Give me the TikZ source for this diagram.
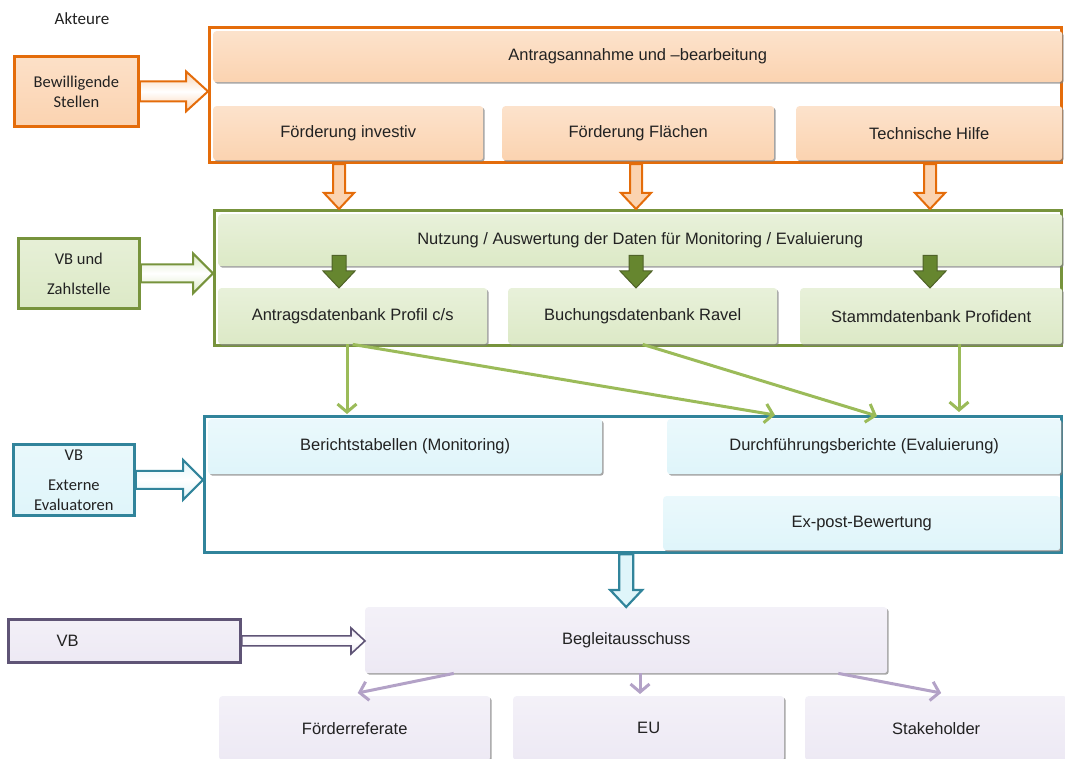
\documentclass[tikz,border=0pt]{standalone}
\usepackage{fontspec}
\setmainfont{Liberation Sans}
\newfontfamily\calibrifont{Carlito}
\usetikzlibrary{positioning, calc, shadows, arrows.meta}

\definecolor{orangeline}{HTML}{E46C0A}
\definecolor{orangefill}{HTML}{FBD3B0}
\definecolor{greenline}{HTML}{77933C}
\definecolor{greenfill}{HTML}{DCE9C6}
\definecolor{darkgreen}{HTML}{66862F}
\definecolor{darkgreenline}{HTML}{4F6228}
\definecolor{thingreen}{HTML}{9BBB59}
\definecolor{tealline}{HTML}{31849B}
\definecolor{tealfill}{HTML}{DFF5FA}
\definecolor{purpleline}{HTML}{5F5476}
\definecolor{purplefill}{HTML}{EDE9F4}
\definecolor{thinpurple}{HTML}{B3A2C7}
\definecolor{textgrey}{HTML}{222222}

\tikzset{
groupframe/.style={draw=#1, line width=3.2pt, rectangle, anchor=north west, inner sep=0pt, fill=white},
panel/.style={rectangle, rounded corners=3pt, anchor=north west, inner sep=0pt,
  top color=#1!65!white, bottom color=#1,
  general shadow={shadow xshift=1.5pt, shadow yshift=-1.5pt, fill=black!50, opacity=0.7},
  font=\fontsize{16.5}{19}\selectfont, text=textgrey},
actor/.style 2 args={draw=#1, line width=2.8pt, rectangle, anchor=north west, inner sep=0pt,
  top color=#2!70!white, bottom color=#2, align=center,
  font=\calibrifont\fontsize{16.5}{20}\selectfont, text=textgrey},
blockright/.style n args={3}{to path={let \p1=(\tikztostart), \p2=(\tikztotarget) in
  (\x1,\y1+#1pt) -- (\x2-#3pt,\y1+#1pt) -- (\x2-#3pt,\y1+#2pt) -- (\x2,\y1)
  -- (\x2-#3pt,\y1-#2pt) -- (\x2-#3pt,\y1-#1pt) -- (\x1,\y1-#1pt) -- cycle}},
blockdown/.style n args={3}{to path={let \p1=(\tikztostart), \p2=(\tikztotarget) in
  (\x1-#1pt,\y1) -- (\x1-#1pt,\y2+#3pt) -- (\x1-#2pt,\y2+#3pt) -- (\x1,\y2)
  -- (\x1+#2pt,\y2+#3pt) -- (\x1+#1pt,\y2+#3pt) -- (\x1+#1pt,\y1) -- cycle}},
sidearrow/.style 2 args={draw=#1, line width=2pt, line join=miter,
  top color=#2, bottom color=#2, middle color=white},
dataflow/.style={draw=thingreen, line width=3pt, -{Straight Barb[length=8pt, width=19pt]}},
panelflow/.style={draw=thinpurple, line width=3pt, -{Straight Barb[length=8pt, width=19pt]}},
}

\begin{document}
\begin{tikzpicture}[x=1pt, y=-1pt]
\useasboundingbox (0,0) rectangle (1065,759);
\clip (0,0) rectangle (1065,759);

\node[font=\calibrifont\fontsize{17}{20}\selectfont, text=textgrey] (akteure) at (82,19) {Akteure};

% Antragsannahme
\node[groupframe=orangeline, minimum width=852pt, minimum height=135pt] (frameA) at (208,26) {};
\node[panel=orangefill, minimum width=849pt, minimum height=51pt] (antrag) at (213,31) {Antragsannahme und --bearbeitung};
\node[panel=orangefill, minimum width=270pt, minimum height=54pt] (investiv) at (213,106) {Förderung investiv};
\node[panel=orangefill, minimum width=272pt, minimum height=54pt] (flaechen) at (502,106) {Förderung Flächen};
\node[panel=orangefill, minimum width=266pt, minimum height=54pt] (technik) at (796,106) {Technische Hilfe};
\node[actor={orangeline}{orangefill}, minimum width=124pt, minimum height=70pt] (bewStellen) at (13,55) {Bewilligende\\Stellen};

% Daten
\node[groupframe=greenline, minimum width=847pt, minimum height=135pt] (frameB) at (213,209) {};
\node[panel=greenfill, minimum width=844pt, minimum height=52pt] (nutzung) at (218,214) {Nutzung / Auswertung der Daten für Monitoring / Evaluierung};
\node[panel=greenfill, minimum width=269pt, minimum height=56pt] (profil) at (218,288) {Antragsdatenbank Profil c/s};
\node[panel=greenfill, minimum width=269pt, minimum height=56pt] (ravel) at (508,288) {Buchungsdatenbank Ravel};
\node[panel=greenfill, minimum width=262pt, minimum height=56pt] (profident) at (800,288) {Stammdatenbank Profident};
\node[actor={greenline}{greenfill}, minimum width=121pt, minimum height=70pt] (vbZahl) at (17,237) {VB und\\[10pt]Zahlstelle};

% Berichte
\node[groupframe=tealline, minimum width=857pt, minimum height=136pt] (frameC) at (203,415) {};
\node[panel=tealfill, minimum width=394pt, minimum height=55pt] (tabellen) at (208,419) {Berichtstabellen (Monitoring)};
\node[panel=tealfill, minimum width=394pt, minimum height=55pt] (durchf) at (667,419) {Durchführungsberichte (Evaluierung)};
\node[panel=tealfill, minimum width=397pt, minimum height=54pt] (expost) at (663,496) {Ex-post-Bewertung};
\node[actor={tealline}{tealfill}, minimum width=121pt, minimum height=71pt] (vbEval) at (12,443) {VB\\[10pt]Externe\\Evaluatoren};

% Begleitausschuss
\node[panel=purplefill, minimum width=522pt, minimum height=66pt] (begleit) at (365,607) {Begleitausschuss};
\node[actor={purpleline}{purplefill}, minimum width=232pt, minimum height=43pt] (vbBegl) at (7,618) {};
\node[font=\fontsize{16.5}{19}\selectfont, text=textgrey, anchor=west] (vbText) at ([xshift=46pt]vbBegl.west) {VB};
\node[panel=purplefill, minimum width=271pt, minimum height=64pt] (referate) at (219,696) {Förderreferate};
\node[panel=purplefill, minimum width=271pt, minimum height=64pt] (eu) at (513,696) {EU};
\node[panel=purplefill, minimum width=262pt, minimum height=64pt] (stake) at (805,696) {Stakeholder};

% Spalten fuer die Blockpfeile
\coordinate (colA) at (339,0);
\coordinate (colB) at (636,0);
\coordinate (colC) at (930,0);

% Akteure -> Bereiche
\draw[sidearrow={orangeline}{orangefill}, blockright={10}{20}{22}] (bewStellen.east) to (bewStellen.east -| frameA.west);
\draw[sidearrow={greenline}{greenfill}, blockright={9}{20}{20}] (vbZahl.east) to (vbZahl.east -| frameB.west);
\draw[sidearrow={tealline}{tealfill}, blockright={9}{20}{20}] (vbEval.east) to (vbEval.east -| frameC.west);
\draw[sidearrow={purpleline}{purplefill}, line width=1.6pt, blockright={5}{13}{14}] (vbBegl.east) to (vbBegl.east -| begleit.west);

% Antrag -> Daten
\foreach \c in {colA, colB, colC}
  \draw[draw=orangeline, fill=orangefill, line width=2pt, blockdown={6}{15}{16}] (\c |- frameA.south) to (\c |- frameB.north);

% Nutzung -> Datenbanken
\foreach \c in {colA, colB, colC}
  \draw[draw=darkgreenline, fill=darkgreen, line width=1pt, blockdown={7}{16}{17}] ($(\c |- nutzung.south)+(0,-11)$) to (\c |- profil.north);

% Datenbanken -> Berichte
\coordinate (tA) at (347,414);
\coordinate (tB) at (775,415);
\coordinate (tC) at (877,416);
\coordinate (tD) at (959,412);
\draw[dataflow] (profil.south -| tA) -- (tA);
\draw[dataflow] (profil.south) -- (tB);
\draw[dataflow] (ravel.south) -- (tC);
\draw[dataflow] (profident.south -| tD) -- (tD);

% Berichte -> Begleitausschuss
\draw[draw=tealline, fill=tealfill, line width=2.2pt, blockdown={7}{16}{17}] (begleit.north |- frameC.south) to (begleit.north);

% Begleitausschuss -> Adressaten
\coordinate (pB) at (640,694);
\draw[panelflow] ($(begleit.south west)!0.17!(begleit.south east)$) -- ([xshift=3pt,yshift=3pt]referate.north);
\draw[panelflow] (begleit.south -| pB) -- (pB);
\draw[panelflow] ($(begleit.south west)!0.906!(begleit.south east)$) -- ([xshift=5pt,yshift=3pt]stake.north);
\end{tikzpicture}
\end{document}
